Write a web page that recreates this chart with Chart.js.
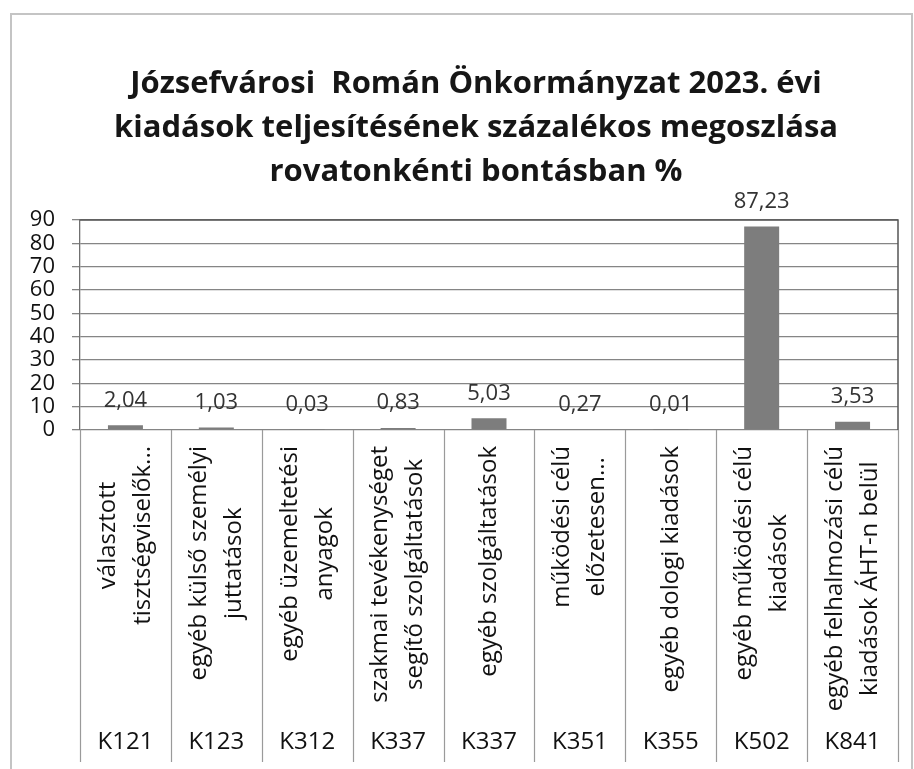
<!DOCTYPE html>
<html><head><meta charset="utf-8">
<script src="https://cdn.jsdelivr.net/npm/chart.js@4/dist/chart.umd.min.js"></script>
<style>html,body{margin:0;padding:0;background:#fff;}#wrap{width:914px;height:769px;position:relative;}</style>
</head><body><div id="wrap"><canvas id="c" width="914" height="769"></canvas></div>
<script>
const titleLines = ["Józsefvárosi  Román Önkormányzat 2023. évi", "kiadások teljesítésének százalékos megoszlása", "rovatonkénti bontásban %"];
const categoryNames = [
  ["választott", "tisztségviselők..."],
  ["egyéb külső személyi", "juttatások"],
  ["egyéb üzemeltetési", "anyagok"],
  ["szakmai tevékenységet", "segítő szolgáltatások"],
  ["egyéb szolgáltatások"],
  ["működési célú", "előzetesen..."],
  ["egyéb dologi kiadások"],
  ["egyéb működési célú", "kiadások"],
  ["egyéb felhalmozási célú", "kiadások ÁHT-n belül"]
];
const categoryCodes = ["K121", "K123", "K312", "K337", "K337", "K351", "K355", "K502", "K841"];
const values = [2.04, 1.03, 0.03, 0.83, 5.03, 0.27, 0.01, 87.23, 3.53];
const yMin = 0, yMax = 90, yStep = 10;

const FONT = "'Open Sans', sans-serif";

const decorPlugin = {
  id: 'decor',
  beforeDraw(chart) {
    const ctx = chart.ctx;
    ctx.save();
    ctx.fillStyle = '#fff';
    ctx.fillRect(0, 0, chart.width, chart.height);
    // outer frame
    ctx.strokeStyle = '#c4c4c4';
    ctx.lineWidth = 2;
    ctx.beginPath();
    ctx.moveTo(11, 769);
    ctx.lineTo(11, 14);
    ctx.lineTo(912, 14);
    ctx.lineTo(912, 769);
    ctx.stroke();
    // title
    ctx.fillStyle = '#161616';
    ctx.font = "bold 31px " + FONT;
    ctx.textAlign = 'center';
    ctx.textBaseline = 'middle';
    titleLines.forEach((t, i) => ctx.fillText(t, 476, 84 + i * 44));
    ctx.restore();
  },
  afterDraw(chart) {
    const ctx = chart.ctx;
    const xs = chart.scales.x;
    const area = chart.chartArea;
    const n = categoryCodes.length;
    const step = (area.right - area.left) / n;
    ctx.save();
    // plot border top and right
    ctx.strokeStyle = '#555';
    ctx.lineWidth = 1.5;
    ctx.beginPath();
    ctx.moveTo(area.left, area.top);
    ctx.lineTo(area.right, area.top);
    ctx.lineTo(area.right, area.bottom);
    ctx.stroke();
    // separators under the axis
    ctx.strokeStyle = '#9a9a9a';
    ctx.lineWidth = 1.2;
    for (let i = 0; i <= n; i++) {
      const x = i < n ? xs.getPixelForValue(i) - step / 2 : xs.getPixelForValue(n - 1) + step / 2;
      ctx.beginPath();
      ctx.moveTo(Math.round(x) + 0.5, area.bottom);
      ctx.lineTo(Math.round(x) + 0.5, 762);
      ctx.stroke();
    }
    // category labels, rotated
    ctx.fillStyle = '#111';
    ctx.font = "24px " + FONT;
    const lineGap = 35;
    const blockTop = 446;
    categoryNames.forEach((lines, i) => {
      const xc = xs.getPixelForValue(i);
      let maxW = 0;
      lines.forEach(l => { maxW = Math.max(maxW, ctx.measureText(l).width); });
      ctx.save();
      ctx.translate(xc, blockTop + maxW / 2);
      ctx.rotate(-Math.PI / 2);
      ctx.textAlign = 'center';
      ctx.textBaseline = 'middle';
      lines.forEach((l, j) => {
        ctx.fillText(l, 0, (j - (lines.length - 1) / 2) * lineGap);
      });
      ctx.restore();
    });
    // codes
    ctx.font = "24px " + FONT;
    ctx.textAlign = 'center';
    ctx.textBaseline = 'middle';
    ctx.fillStyle = '#111';
    categoryCodes.forEach((c, i) => {
      ctx.fillText(c, xs.getPixelForValue(i), 742);
    });
    ctx.restore();
  },
  afterDatasetsDraw(chart) {
    const ctx = chart.ctx;
    const meta = chart.getDatasetMeta(0);
    ctx.save();
    ctx.font = "22px " + FONT;
    ctx.fillStyle = '#333';
    ctx.textAlign = 'center';
    ctx.textBaseline = 'middle';
    meta.data.forEach((bar, i) => {
      const txt = values[i].toFixed(2).replace('.', ',');
      ctx.fillText(txt, bar.x, bar.y - 25);
    });
    ctx.restore();
  }
};

new Chart(document.getElementById('c'), {
  type: 'bar',
  data: {
    labels: categoryCodes,
    datasets: [{
      data: values,
      backgroundColor: '#7d7d7d',
      borderWidth: 0,
      barPercentage: 0.385,
      categoryPercentage: 1.0
    }]
  },
  options: {
    responsive: false,
    animation: false,
    devicePixelRatio: 1,
    layout: { padding: { left: 10, right: 16, top: 220, bottom: 0 } },
    plugins: {
      legend: { display: false },
      tooltip: { enabled: false },
      title: { display: false }
    },
    scales: {
      x: {
        grid: { display: false },
        border: { display: false },
        ticks: { display: false },
        afterFit(s) { s.height = 339; }
      },
      y: {
        min: yMin, max: yMax,
        ticks: { stepSize: yStep, autoSkip: false, color: '#111', font: { family: FONT, size: 22 }, padding: 17 },
        grid: { color: '#858585', lineWidth: 1.3, tickLength: 8 },
        border: { color: '#707070', width: 1.3 },
        afterFit(s) { s.width = 70; }
      }
    }
  },
  plugins: [decorPlugin]
});
</script></body></html>
